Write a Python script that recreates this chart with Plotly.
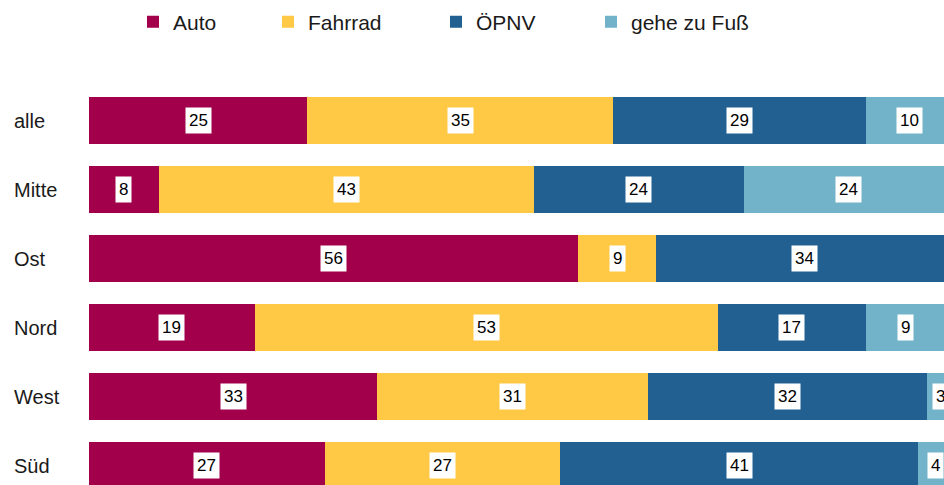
import plotly.graph_objects as go

categories = ["alle", "Mitte", "Ost", "Nord", "West", "Süd"]
series_names = ["Auto", "Fahrrad", "ÖPNV", "gehe zu Fuß"]
auto = [25, 8, 56, 19, 33, 27]
fahrrad = [35, 43, 9, 53, 31, 27]
oepnv = [29, 24, 34, 17, 32, 41]
fuss = [10, 24, 1, 9, 3, 4]

colors = ["#A3004B", "#FFC845", "#236092", "#72B3CA"]
series = [auto, fahrrad, oepnv, fuss]

W, H = 944, 485
ML, MT = 89, 86
plot_w = W - ML
FONT = "Liberation Sans, Arial, sans-serif"
TXT = "#1a1a1a"

fig = go.Figure()
legend_ids = ["legend", "legend2", "legend3", "legend4"]
for name, vals, col, lg in zip(series_names, series, colors, legend_ids):
    fig.add_trace(go.Bar(
        y=categories, x=vals, name=name, orientation="h",
        marker=dict(color=col, line=dict(width=0)),
        legend=lg, hoverinfo="skip",
    ))

# value labels in white boxes, centred in each segment
annotations = []
cum = [0] * len(categories)
for vals in series:
    for i, (c, v) in enumerate(zip(categories, vals)):
        annotations.append(dict(
            x=cum[i] + v / 2, y=c, xref="x", yref="y", text=str(v),
            showarrow=False, bgcolor="white", borderpad=3,
            font=dict(family=FONT, size=17, color="black"),
        ))
        cum[i] += v

# category labels, left aligned
for c in categories:
    annotations.append(dict(
        x=(12 - ML) / plot_w, y=c, xref="paper", yref="y", text=c,
        xanchor="left", showarrow=False,
        font=dict(family=FONT, size=20, color=TXT),
    ))

legend_px = [133, 268, 436, 591]
legends = {}
for lg, px in zip(legend_ids, legend_px):
    legends[lg] = dict(
        x=px / W, xref="container", xanchor="left",
        y=1 - 22 / H, yref="container", yanchor="middle",
        orientation="h", itemwidth=30, bgcolor="rgba(0,0,0,0)",
        font=dict(family=FONT, size=21, color=TXT),
    )

fig.update_layout(
    width=W, height=H,
    margin=dict(l=ML, r=0, t=MT, b=0, autoexpand=False),
    barmode="stack", bargap=0.333,
    plot_bgcolor="white", paper_bgcolor="white",
    showlegend=True,
    xaxis=dict(range=[0, plot_w / 8.73], visible=False, fixedrange=True),
    yaxis=dict(range=[-0.5 + (H - MT) / 69.0, -0.5], showticklabels=False,
               showgrid=False, zeroline=False, showline=False, ticks=""),
    annotations=annotations,
    **legends,
)

fig.write_html(
    "out.html",
    config={"displayModeBar": False},
    post_script="document.body.style.margin='0';document.body.style.overflow='hidden';",
)
